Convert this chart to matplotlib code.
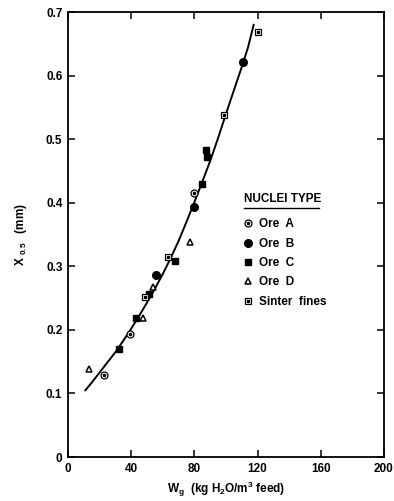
import matplotlib
matplotlib.use("Agg")
import matplotlib.pyplot as plt
from matplotlib.legend_handler import HandlerTuple

plt.rcParams['font.family'] = ['Liberation Sans', 'DejaVu Sans']

# --- data ---
ore_a_x = [23, 39, 80]
ore_a_y = [0.129, 0.193, 0.416]

ore_b_x = [56, 79.5, 111]
ore_b_y = [0.287, 0.394, 0.622]

ore_c_x = [32, 43, 51, 67.5, 84.5, 87.5, 88]
ore_c_y = [0.170, 0.219, 0.256, 0.308, 0.430, 0.483, 0.472]

ore_d_x = [13.5, 47.5, 54, 77.5]
ore_d_y = [0.138, 0.219, 0.268, 0.339]

sinter_x = [48.5, 63.5, 99, 120]
sinter_y = [0.251, 0.315, 0.538, 0.669]

# fitted curve
curve_x = [11, 15, 20, 25, 30, 35, 40, 45, 50, 55, 60, 65, 70, 75, 80,
           85, 90, 95, 100, 105, 110, 114, 117.5]
curve_y = [0.105, 0.117, 0.133, 0.149, 0.165, 0.183, 0.202, 0.222, 0.243,
           0.265, 0.288, 0.313, 0.340, 0.370, 0.401, 0.433, 0.466, 0.502,
           0.540, 0.577, 0.614, 0.645, 0.680]

x_ticks = [0, 40, 80, 120, 160, 200]
y_ticks = [0, 0.1, 0.2, 0.3, 0.4, 0.5, 0.6, 0.7]
y_tick_labels = ['0', '0.1', '0.2', '0.3', '0.4', '0.5', '0.6', '0.7']

fig = plt.figure(figsize=(3.94, 5.01), dpi=100)
ax = fig.add_axes([0.1726, 0.0878, 0.802, 0.888])

ax.plot(curve_x, curve_y, color='black', lw=1.4, zorder=2,
        solid_joinstyle='round')

ms = 5
a1, = ax.plot(ore_a_x, ore_a_y, 'o', ms=ms, mfc='white', mec='black', mew=0.9, zorder=3)
a2, = ax.plot(ore_a_x, ore_a_y, 'o', ms=1.6, mfc='black', mec='black', zorder=4)
b, = ax.plot(ore_b_x, ore_b_y, 'o', ms=ms + 0.5, mfc='black', mec='black', zorder=3)
c, = ax.plot(ore_c_x, ore_c_y, 's', ms=ms, mfc='black', mec='black', zorder=3)
d, = ax.plot(ore_d_x, ore_d_y, '^', ms=ms, mfc='white', mec='black', mew=1.1, zorder=3)
s1, = ax.plot(sinter_x, sinter_y, 's', ms=ms, mfc='white', mec='black', mew=0.9, zorder=3)
s2, = ax.plot(sinter_x, sinter_y, 's', ms=1.4, mfc='black', mec='black', zorder=4)

ax.set_xlim(0, 200)
ax.set_ylim(0, 0.7)
ax.set_xticks(x_ticks)
ax.set_yticks(y_ticks)
ax.set_yticklabels(y_tick_labels)
ax.tick_params(direction='in', length=5, width=1.1, labelsize=8.5,
               top=True, right=True, pad=4)
for lab in ax.get_xticklabels() + ax.get_yticklabels():
    lab.set_fontweight('bold')
for sp in ax.spines.values():
    sp.set_linewidth(1.3)

ax.set_xlabel(r'W$_\mathregular{g}$  (kg H$_\mathregular{2}$O/m$^\mathregular{3}$ feed)',
              fontsize=8.5, fontweight='bold', labelpad=4)
ax.set_ylabel(r'X $_\mathregular{0.5}$   (mm)', fontsize=8.5, fontweight='bold', labelpad=12)

# legend title, underlined
ax.text(0.557, 0.58, 'NUCLEI TYPE', transform=ax.transAxes, fontsize=8.5,
        fontweight='bold', va='center', ha='left')
ax.plot([0.557, 0.795], [0.559, 0.559], transform=ax.transAxes, color='black', lw=1.0)

leg = ax.legend([(a1, a2), b, c, d, (s1, s2)],
                ['Ore  A', 'Ore  B', 'Ore  C', 'Ore  D', 'Sinter  fines'],
                handler_map={tuple: HandlerTuple(ndivide=1, pad=0)},
                loc='upper left', bbox_to_anchor=(0.54, 0.547), frameon=False,
                handlelength=0.8, handletextpad=0.5,
                labelspacing=0.62, borderaxespad=0, prop={'weight': 'bold', 'size': 8.5})

fig.savefig('out.png', dpi=100)
